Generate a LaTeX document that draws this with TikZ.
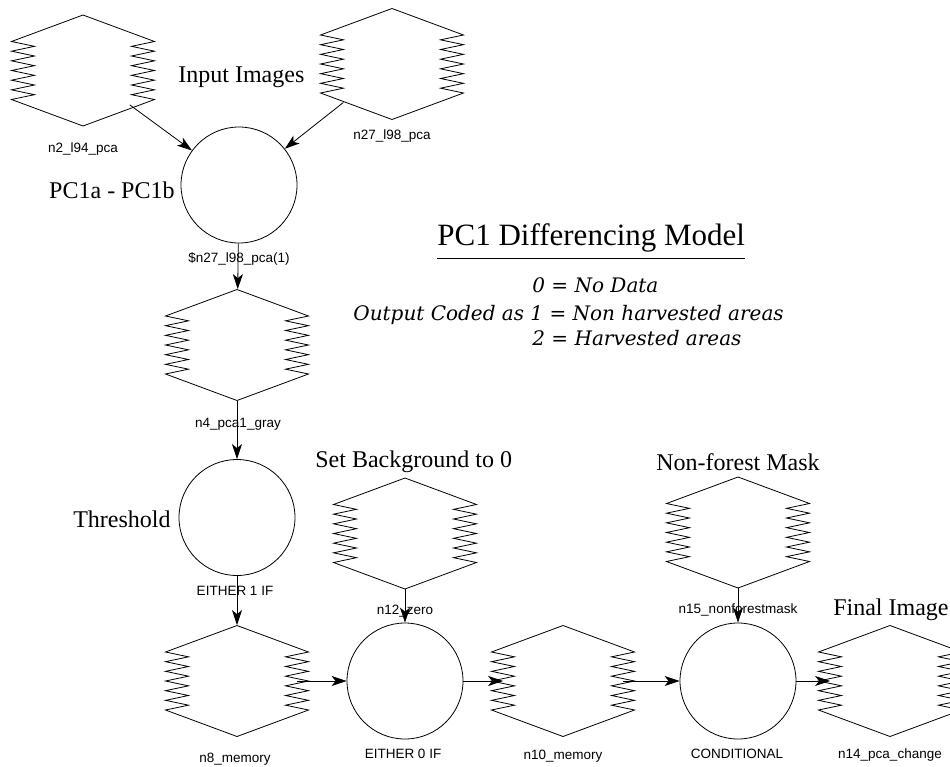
\documentclass[tikz,border=0pt]{standalone}
\usepackage{fontspec}
\setmainfont{Liberation Serif}
\newfontfamily\labelfont{Liberation Sans}
\newfontfamily\notefont{DejaVu Serif}
\usetikzlibrary{arrows.meta}
\begin{document}
\begin{tikzpicture}[x=1pt,y=-1pt,
  line width=0.8pt,
  hexbox/.style={draw=none, rectangle, minimum width=119pt, minimum height=111pt, inner sep=0pt},
  proc/.style={circle, draw, minimum size=116pt, inner sep=0pt},
  arr/.style={-{Stealth[length=15pt,width=10pt,inset=4pt]}},
  lab/.style={font=\labelfont\fontsize{13.5}{16}\selectfont, inner sep=0pt, anchor=base},
  captxt/.style={font=\fontsize{24}{28}\selectfont, inner sep=0pt},
  legendtxt/.style={font=\notefont\itshape\fontsize{20}{24}\selectfont, inner sep=0pt, anchor=base west},
  hexpic/.pic={\draw (0,-55.5) -- (71.5,-29) -- (48.5,-24.17) -- (71.5,-19.33) -- (48.5,-14.5) -- (71.5,-9.67) -- (48.5,-4.83) -- (71.5,0) -- (48.5,4.83) -- (71.5,9.67) -- (48.5,14.5) -- (71.5,19.33) -- (48.5,24.17) -- (71.5,29) -- (0,55.5) -- (-71.5,29) -- (-48.5,24.17) -- (-71.5,19.33) -- (-48.5,14.5) -- (-71.5,9.67) -- (-48.5,4.83) -- (-71.5,0) -- (-48.5,-4.83) -- (-71.5,-9.67) -- (-48.5,-14.5) -- (-71.5,-19.33) -- (-48.5,-24.17) -- (-71.5,-29) -- cycle;}
]
\useasboundingbox (0,0) rectangle (950,766);

% image (hexagon) nodes
\node[hexbox] (n2) at (83,70.5) {};   \pic at (83,70.5) {hexpic};
\node[hexbox] (n27) at (392,64) {};   \pic at (392,64) {hexpic};
\node[hexbox] (n4) at (237,345) {};   \pic at (237,345) {hexpic};
\node[hexbox] (n8) at (237,681) {};   \pic at (237,681) {hexpic};
\node[hexbox] (n12) at (405,533.5) {}; \pic at (405,533.5) {hexpic};
\node[hexbox] (n10) at (563,681) {};  \pic at (563,681) {hexpic};
\node[hexbox] (n15) at (738,532.5) {}; \pic at (738,532.5) {hexpic};
\node[hexbox] (n14) at (890,681) {};  \pic at (890,681) {hexpic};

% process (circle) nodes
\node[proc] (c1) at (239,185) {};
\node[proc] (c2) at (237,517.5) {};
\node[proc] (c3) at (405,681) {};
\node[proc] (c4) at (738,681) {};

% small labels
\node[lab] (l2) at (83,152) {n2\_l94\_pca};
\node[lab] (l27) at (392,139) {n27\_l98\_pca};
\node[lab] (lc1) at (239,262) {\$n27\_l98\_pca(1)};
\node[lab] (l4) at (238,427) {n4\_pca1\_gray};
\node[lab] (lc2) at (235,595) {EITHER 1 IF};
\node[lab] (l8) at (235,762) {n8\_memory};
\node[lab] (l12) at (405,614) {n12\_zero};
\node[lab] (lc3) at (403,758) {EITHER 0 IF};
\node[lab] (l10) at (563,759) {n10\_memory};
\node[lab] (l15) at (738,613) {n15\_nonforestmask};
\node[lab] (lc4) at (737,758) {CONDITIONAL};
\node[lab] (l14) at (890,758) {n14\_pca\_change};

% captions
\node[captxt, anchor=base west] (tin) at (178,82) {Input Images};
\node[captxt, anchor=base east] (tpc) at (175,198) {PC1a - PC1b};
\node[captxt, anchor=base east] (tth) at (171,527) {Threshold};
\node[captxt, anchor=base west] (tbg) at (315,467) {Set Background to 0};
\node[captxt, anchor=base] (tnf) at (738,470) {Non-forest Mask};
\node[captxt, anchor=base east] (tfi) at (949,615) {Final Image};

% title and legend
\node[font=\fontsize{31}{35}\selectfont, inner sep=0pt, anchor=base west] (title) at (437,245) {PC1 Differencing Model};
\path (title.base west) ++(0,13) coordinate (ul1);
\path (title.base east) ++(0,13) coordinate (ul2);
\draw (ul1) -- (ul2);
\node[legendtxt] (k0) at (532,292) {0 = No Data};
\node[legendtxt] (k1) at (353,320) {Output Coded as 1 = Non harvested areas};
\node[legendtxt] (k2) at (532,345) {2 = Harvested areas};

% connectors
\draw[arr, shorten <=58pt] (n2.center) -- (c1);
\draw[arr, shorten <=62pt] (n27.center) -- (c1);
\draw[arr] (c1) -- (n4);
\draw[arr] (n4) -- (c2);
\draw[arr] (c2) -- (n8);
\draw[arr] (n8.east) -- (c3);
\draw[arr] (n12) -- (c3);
\draw[arr] (c3) -- (n10.west);
\draw[arr] (n10.east) -- (c4);
\draw[arr] (n15) -- (c4);
\draw[arr] (c4) -- (n14.west);
\end{tikzpicture}
\end{document}
